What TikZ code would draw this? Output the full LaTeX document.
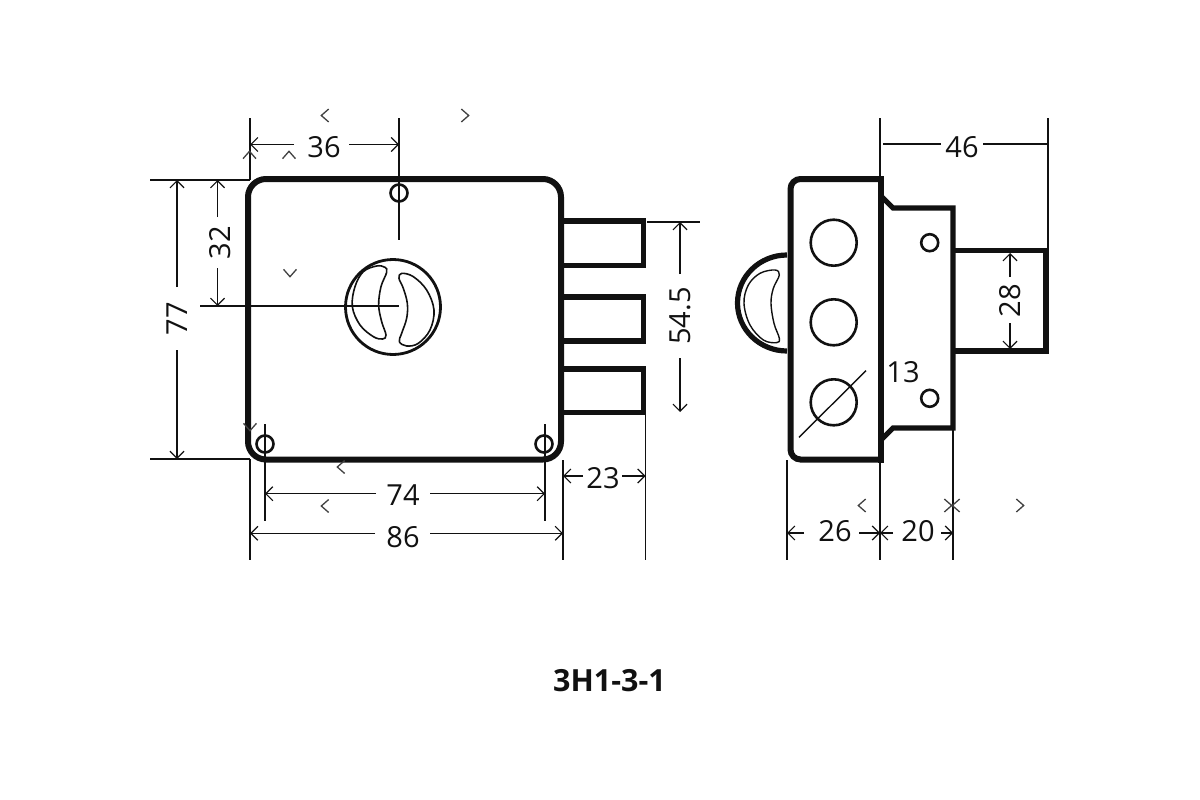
\documentclass[tikz,border=0pt]{standalone}
\usepackage{fontspec}
\setmainfont{Open Sans}
\usetikzlibrary{arrows.meta}
\definecolor{RichBlack}{HTML}{111111}
\tikzset{%
  body_line/.style={%
    draw=RichBlack,%
    line width=6pt,%
    line join=miter,%
  },
  latch_line/.style={%
    draw=RichBlack,%
    line width=5.2pt,%
    line join=miter,%
  },
  thin_line/.style={%
    draw=RichBlack,%
    line width=1.4pt,%
  },
  dim_line/.style={%
    draw=RichBlack,%
    line width=1.3pt,%
  },
  dim_arrow/.style={%
    dim_line,%
    -{Straight Barb[length=7pt,width=14pt,line width=1.2pt]},%
  },
  dim_label/.style={%
    font={\fontsize{29}{29}\selectfont},%
    text=RichBlack,%
    inner sep=0pt,%
  },
  title_label/.style={%
    font={\fontsize{30.5}{30.5}\selectfont\bfseries},%
    text=RichBlack,%
    inner sep=0pt,%
  },
  screw_hole/.style={%
    draw=RichBlack,%
    line width=2.6pt,%
    circle,%
    minimum size=17pt,%
    inner sep=0pt,%
  },
  stray_mark/.pic={%
    \draw [draw=RichBlack!80, line width=1.3pt] (3.7,-6.5) -- (-3.7,0) -- (3.7,6.5);
  },
}
\begin{document}
\begin{tikzpicture}[x=1pt, y=-1pt]
    \useasboundingbox (0,0) rectangle (1200,800);

    % front view
    \draw [latch_line] (561,221) -- (643.5,221) -- (643.5,265.5) -- (561,265.5);
    \draw [latch_line] (561,297) -- (643.5,297) -- (643.5,341) -- (561,341);
    \draw [latch_line] (561,369) -- (643.5,369) -- (643.5,412.5) -- (561,412.5);
    \draw [body_line, rounded corners=18pt] (248,179) rectangle (561,459.5);

    \node [screw_hole] (top_screw) at (399,193) {};
    \node [screw_hole] (left_screw) at (265,444) {};
    \node [screw_hole] (right_screw) at (544,444) {};
    \node [screw_hole, line width=2.8pt, minimum size=95pt] (cylinder) at (393,307) {};

    \begin{scope}[shift={(320,240)}, x=0.3333pt, y=-0.3333pt]
      \draw [thin_line, line width=1.6pt] plot [smooth cycle, tension=0.6] coordinates {
        (170,78) (195,82) (200,97) (183,140) (176,195) (185,245) (198,285)
        (188,297) (160,290) (120,255) (97,200) (105,140) (130,95)};
      \draw [thin_line, line width=1.6pt] plot [smooth cycle, tension=0.6] coordinates {
        (245,100) (280,110) (320,150) (342,210) (330,270) (295,310) (260,318)
        (238,305) (245,280) (260,235) (262,190) (250,145) (237,115)};
    \end{scope}

    % side view
    \draw [latch_line] (953,250.5) -- (1046,250.5) -- (1046,351) -- (953,351);
    \draw [latch_line] (882,197) -- (893,208) -- (953,208) -- (953,428)
      -- (893,428) -- (882,439);
    \draw [latch_line] (787,351) arc [start angle=90, end angle=270, x radius=49.5, y radius=48];
    \begin{scope}[shift={(720,160)}, x=0.3333pt, y=-0.3333pt]
      \draw [thin_line] plot [smooth cycle, tension=0.6] coordinates {
        (165,330) (178,345) (160,385) (153,430) (162,490) (178,535) (170,548)
        (130,540) (90,495) (72,430) (85,375) (120,340)};
    \end{scope}
    \draw [body_line, rounded corners=10pt] (880.5,179) -- (790.5,179) -- (790.5,459.5)
      -- (880.5,459.5);
    \draw [body_line] (880.5,176) -- (880.5,462.5);

    \foreach \name/\ypos in {upper/242.7, middle/322.3, lower/402.3} {
      \node [screw_hole, minimum size=46pt] (\name_hole) at (833.7,\ypos) {};
    }
    \node [screw_hole] (upper_pin) at (929.7,242.7) {};
    \node [screw_hole] (lower_pin) at (929.7,398.3) {};
    \coordinate (dia_start) at (799,437.3);
    \coordinate (dia_end) at (866,370.7);
    \draw [thin_line] (dia_start) -- (dia_end);

    % extension lines
    \draw [dim_line] (250,118) -- (250,180);
    \draw [dim_line] (399,118) -- (399,240);
    \draw [dim_line] (150,180) -- (250,180);
    \draw [dim_line] (150,459) -- (250,459);
    \draw [dim_line] (200,306) -- (399,306);
    \draw [dim_line] (647,222) -- (700,222);
    \draw [dim_line] (250,459) -- (250,560);
    \draw [dim_line] (265,424) -- (265,521);
    \draw [dim_line] (545,424) -- (545,521);
    \draw [dim_line] (563,460) -- (563,560);
    \draw [dim_line] (645.5,414) -- (645.5,560);
    \draw [dim_line] (880,118) -- (880,177);
    \draw [dim_line] (1048,118) -- (1048,250);
    \draw [dim_line] (787,460) -- (787,560);
    \draw [dim_line] (880,460) -- (880,560);
    \draw [dim_line] (953,430) -- (953,560);

    % dimensions
    \coordinate (tip_36_left) at (250,144.5);
    \coordinate (tip_36_right) at (399,144.5);
    \node [dim_label] (label_36) at (324,147) {36};
    \draw [dim_arrow] (294,144.5) -- (tip_36_left);
    \draw [dim_arrow] (349,144.5) -- (tip_36_right);

    \coordinate (tip_77_top) at (177,180);
    \coordinate (tip_77_bottom) at (177,459);
    \node [dim_label, rotate=90] (label_77) at (177,319) {77};
    \draw [dim_arrow] (177,287) -- (tip_77_top);
    \draw [dim_arrow] (177,350) -- (tip_77_bottom);

    \coordinate (tip_32_top) at (217.5,180);
    \coordinate (tip_32_bottom) at (217.5,306);
    \node [dim_label, rotate=90] (label_32) at (220,243) {32};
    \draw [dim_arrow] (217.5,217) -- (tip_32_top);
    \draw [dim_arrow] (217.5,268) -- (tip_32_bottom);

    \coordinate (tip_54_top) at (680,222);
    \coordinate (tip_54_bottom) at (680,412);
    \node [dim_label, rotate=90] (label_54) at (680,316) {54.5};
    \draw [dim_arrow] (680,274) -- (tip_54_top);
    \draw [dim_arrow] (680,358) -- (tip_54_bottom);

    \coordinate (tip_74_left) at (265,493.7);
    \coordinate (tip_74_right) at (545,493.7);
    \node [dim_label] (label_74) at (403,495) {74};
    \draw [dim_arrow] (376,493.7) -- (tip_74_left);
    \draw [dim_arrow] (430,493.7) -- (tip_74_right);

    \coordinate (tip_86_left) at (250,533.3);
    \coordinate (tip_86_right) at (563,533.3);
    \node [dim_label] (label_86) at (403,537) {86};
    \draw [dim_arrow] (375,533.3) -- (tip_86_left);
    \draw [dim_arrow] (430,533.3) -- (tip_86_right);

    \coordinate (tip_23_left) at (563,476);
    \coordinate (tip_23_right) at (645.5,476);
    \node [dim_label] (label_23) at (603,478) {23};
    \draw [dim_arrow] (583,476) -- (tip_23_left);
    \draw [dim_arrow] (622,476) -- (tip_23_right);

    \coordinate (end_46_left) at (883,144);
    \coordinate (end_46_right) at (1048,144);
    \node [dim_label] (label_46) at (962,147) {46};
    \draw [dim_line] (end_46_left) -- (941,144);
    \draw [dim_line] (983,144) -- (end_46_right);

    \coordinate (tip_26_left) at (787,533);
    \coordinate (tip_26_right) at (880,533);
    \node [dim_label] (label_26) at (835,531) {26};
    \draw [dim_arrow] (804,533) -- (tip_26_left);
    \draw [dim_arrow] (859,533) -- (tip_26_right);

    \coordinate (tip_20_left) at (880,533);
    \coordinate (tip_20_right) at (953,533);
    \node [dim_label] (label_20) at (918,531) {20};
    \draw [dim_arrow] (893,533) -- (tip_20_left);
    \draw [dim_arrow] (941,533) -- (tip_20_right);

    \coordinate (tip_28_top) at (1010,253);
    \coordinate (tip_28_bottom) at (1010,349);
    \node [dim_label, rotate=90] (label_28) at (1010,301) {28};
    \draw [dim_arrow] (1010,277) -- (tip_28_top);
    \draw [dim_arrow] (1010,323) -- (tip_28_bottom);

    \node [dim_label] (label_13) at (903,372) {13};
    \node [title_label] (title) at (609.5,681) {3H1-3-1};

    % stray marks
    \foreach \xpos/\ypos/\turn in {%
      325/115.5/0, 465/115.5/180, 289/155/-90, 249.5/155/-90, 290/273/90,
      250/427/90, 341/467/0, 325/506/0, 862/505.5/0, 956/505.5/0,
      948/505.5/180, 1020/505.5/180} {
      \pic [rotate=\turn] at (\xpos,\ypos) {stray_mark};
    }
  \end{tikzpicture}
\end{document}
